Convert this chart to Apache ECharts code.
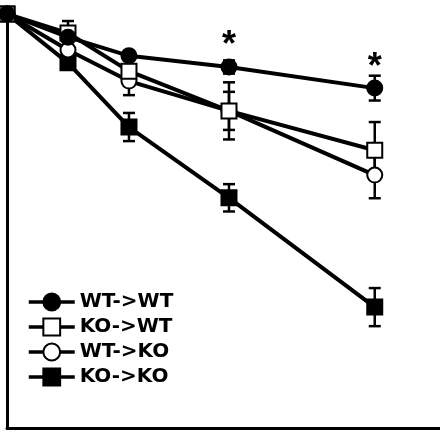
<!DOCTYPE html>
<html>
<head>
<meta charset="utf-8">
<script src="https://cdn.jsdelivr.net/npm/echarts@6/dist/echarts.min.js"></script>
<style>
  html, body { margin: 0; padding: 0; background: #fff; }
  #chart { width: 440px; height: 436px; }
</style>
</head>
<body>
<div id="chart"></div>
<script>
// time points and group means
var days = [0, 1, 2, 3.64, 6.03];
var groups = ["WT->WT", "KO->WT", "WT->KO", "KO->KO"];
var wtwt = [100, 94.4, 89.9, 87.2, 82.1];
var kowt = [100, 95.4, 86.2, 76.6, 67.1];
var wtko = [100, 91.3, 83.8, 76.6, 61.1];
var koko = [100, 88.2, 72.7, 55.6, 29.2];
// error bar half-widths
var wtwtErr = [0, 1.2, 1.2, 1.6, 3.0];
var kowtErr = [0, 2.9, 1.5, 6.9, 6.8];
var wtkoErr = [0, 1.2, 3.4, 4.6, 5.6];
var kokoErr = [0, 1.5, 3.4, 3.3, 4.6];
// which points carry a significance star
var starIdx = [3, 4];

var chart = echarts.init(document.getElementById("chart"));

function pts(vals, marks) {
  return vals.map(function(v, i) {
    var p = { value: [days[i], v] };
    if (marks && marks.indexOf(i) > -1) {
      p.label = {
        show: true,
        formatter: "*",
        position: "top",
        distance: -6,
        fontSize: 36,
        fontWeight: "bold",
        color: "#000",
        fontFamily: "Liberation Sans"
      };
    }
    return p;
  });
}

function errData(vals, errs) {
  return vals.map(function(v, i) {
    return [days[i], v - errs[i], v + errs[i]];
  });
}

function errSeries(vals, errs) {
  return {
    type: "custom",
    z: 1,
    silent: true,
    data: errData(vals, errs),
    renderItem: function(params, api) {
      var lo = api.coord([api.value(0), api.value(1)]);
      var hi = api.coord([api.value(0), api.value(2)]);
      var w = 6;
      var st = { stroke: "#000", lineWidth: 2.5 };
      return {
        type: "group",
        children: [
          { type: "line", shape: { x1: lo[0], y1: lo[1], x2: hi[0], y2: hi[1] }, style: st },
          { type: "line", shape: { x1: lo[0] - w, y1: lo[1], x2: lo[0] + w, y2: lo[1] }, style: st },
          { type: "line", shape: { x1: hi[0] - w, y1: hi[1], x2: hi[0] + w, y2: hi[1] }, style: st }
        ]
      };
    }
  };
}

function lineSeries(name, vals, symbol, filled, marks) {
  return {
    name: name,
    type: "line",
    z: 2,
    clip: false,
    data: pts(vals, marks),
    symbol: symbol,
    symbolSize: 15,
    showAllSymbol: true,
    lineStyle: { color: "#000", width: 4 },
    itemStyle: {
      color: filled ? "#000" : "#fff",
      borderColor: "#000",
      borderWidth: 2
    },
    emphasis: { disabled: true }
  };
}

chart.setOption({
  backgroundColor: "#ffffff",
  animation: false,
  grid: {
    left: 7,
    right: 0,
    top: 14,
    bottom: 8
  },
  legend: {
    orient: "vertical",
    left: 27,
    top: 292,
    padding: 0,
    itemWidth: 46,
    itemHeight: 21,
    itemGap: 5,
    data: groups,
    lineStyle: { width: 3.5 },
    textStyle: {
      fontSize: 20,
      fontWeight: "bold",
      color: "#000",
      fontFamily: "DejaVu Sans"
    }
  },
  xAxis: {
    type: "value",
    min: 0,
    max: 7.1,
    axisLine: { show: true, onZero: false, lineStyle: { color: "#000", width: 3 } },
    axisTick: { show: false },
    axisLabel: { show: false },
    splitLine: { show: false }
  },
  yAxis: {
    type: "value",
    min: 0,
    max: 100,
    axisLine: { show: true, onZero: false, lineStyle: { color: "#000", width: 3 } },
    axisTick: { show: false },
    axisLabel: { show: false },
    splitLine: { show: false }
  },
  series: [
    errSeries(wtwt, wtwtErr),
    errSeries(kowt, kowtErr),
    errSeries(wtko, wtkoErr),
    errSeries(koko, kokoErr),
    lineSeries(groups[3], koko, "rect", true),
    lineSeries(groups[2], wtko, "circle", false),
    lineSeries(groups[1], kowt, "rect", false),
    lineSeries(groups[0], wtwt, "circle", true, starIdx)
  ]
});
</script>
</body>
</html>
